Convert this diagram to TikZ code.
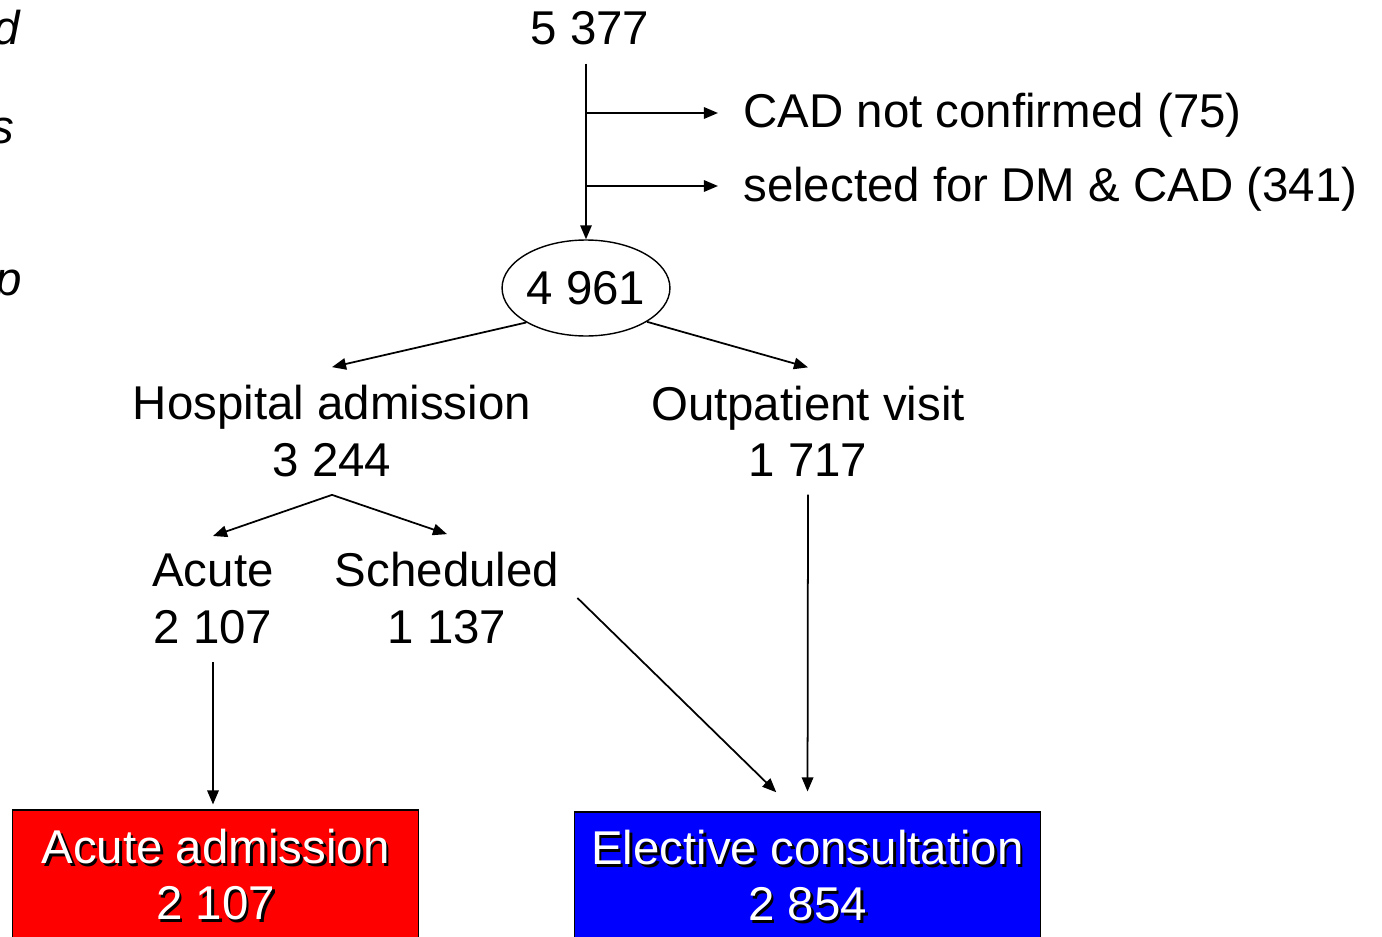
\documentclass[tikz,border=0pt]{standalone}
\usepackage{fontspec}
\setmainfont{Liberation Sans}
\usetikzlibrary{shapes.geometric,arrows.meta}
\newcommand{\shadowtxt}[1]{\rlap{\kern1.5pt\raisebox{-1.5pt}{\color{black}#1}}{\color{white}#1}}

\begin{document}
\begin{tikzpicture}[x=0.02cm, y=-0.02cm, font=\fontsize{27}{32}\selectfont]
  \useasboundingbox (0, 0) rectangle (1382, 936);  % Bildausschnitt.
  \tikzstyle{txt}=[align=center, inner sep=0.36cm]
  \tikzstyle{side}=[inner sep=0pt, font=\fontsize{27}{32}\selectfont\itshape]
  \tikzstyle{countbox}=[draw, line width=0.6pt, align=center, inner sep=0pt]
  \tikzstyle{arr}=[draw, line width=1pt, -{Triangle[length=8pt, width=6.5pt]}]

  \node[side, anchor=base east] (sd) at (20, 45)  {d};
  \node[side, anchor=base east] (ss) at (15, 143) {s};
  \node[side, anchor=base east] (sp) at (22, 295) {p};

  \node[txt] (n5377) at (590, 28.5) {5 377};
  \node[txt, anchor=base west] (cad) at (725, 128) {CAD not confirmed (75)};
  \node[txt, anchor=base west] (sel) at (725, 201) {selected for DM \& CAD (341)};
  \node[ellipse, draw, line width=0.8pt, minimum width=3.22cm, minimum height=1.92cm, inner sep=0pt] (ell) at (586, 288) {4 961};

  \node[txt] (hosp)  at (332, 431) {Hospital admission\\3 244};
  \node[txt] (outp)  at (808, 431) {Outpatient visit\\1 717};
  \node[txt] (acute) at (213, 599) {Acute\\2 107};
  \node[txt] (sched) at (447, 598) {Scheduled\\1 137};

  \node[countbox, fill=red, minimum width=8.14cm, minimum height=2.64cm] (acadm) at (215.5, 876)
    {\shadowtxt{Acute admission}\\\shadowtxt{2 107}};
  \node[countbox, fill=blue, minimum width=9.34cm, minimum height=2.6cm] (elcons) at (807.5, 877)
    {\shadowtxt{Elective consultation}\\\shadowtxt{2 854}};

  \coordinate (b1) at (586, 113);
  \coordinate (b2) at (586, 186);

  \path (ell.north |- n5377.south) edge[arr] (ell.north);
  \path (b1) edge[arr, shorten >=0.14cm] (b1 -| cad.west);
  \path (b2) edge[arr, shorten >=0.14cm] (b2 -| sel.west);
  \path (ell.210) edge[arr] (hosp.north);
  \path (ell.-29) edge[arr] (outp.north);
  \path (hosp.south) edge[arr] (acute.north);
  \path (hosp.south) edge[arr] (sched.north);
  \path (acute.south) edge[arr, shorten >=0.1cm] (acute.south |- acadm.north);
  \path (sched.east) edge[arr, shorten >=0.55cm] (elcons.100);
  \path (outp.south) edge[arr, shorten >=0.4cm] (elcons.north);
\end{tikzpicture}
\end{document}
